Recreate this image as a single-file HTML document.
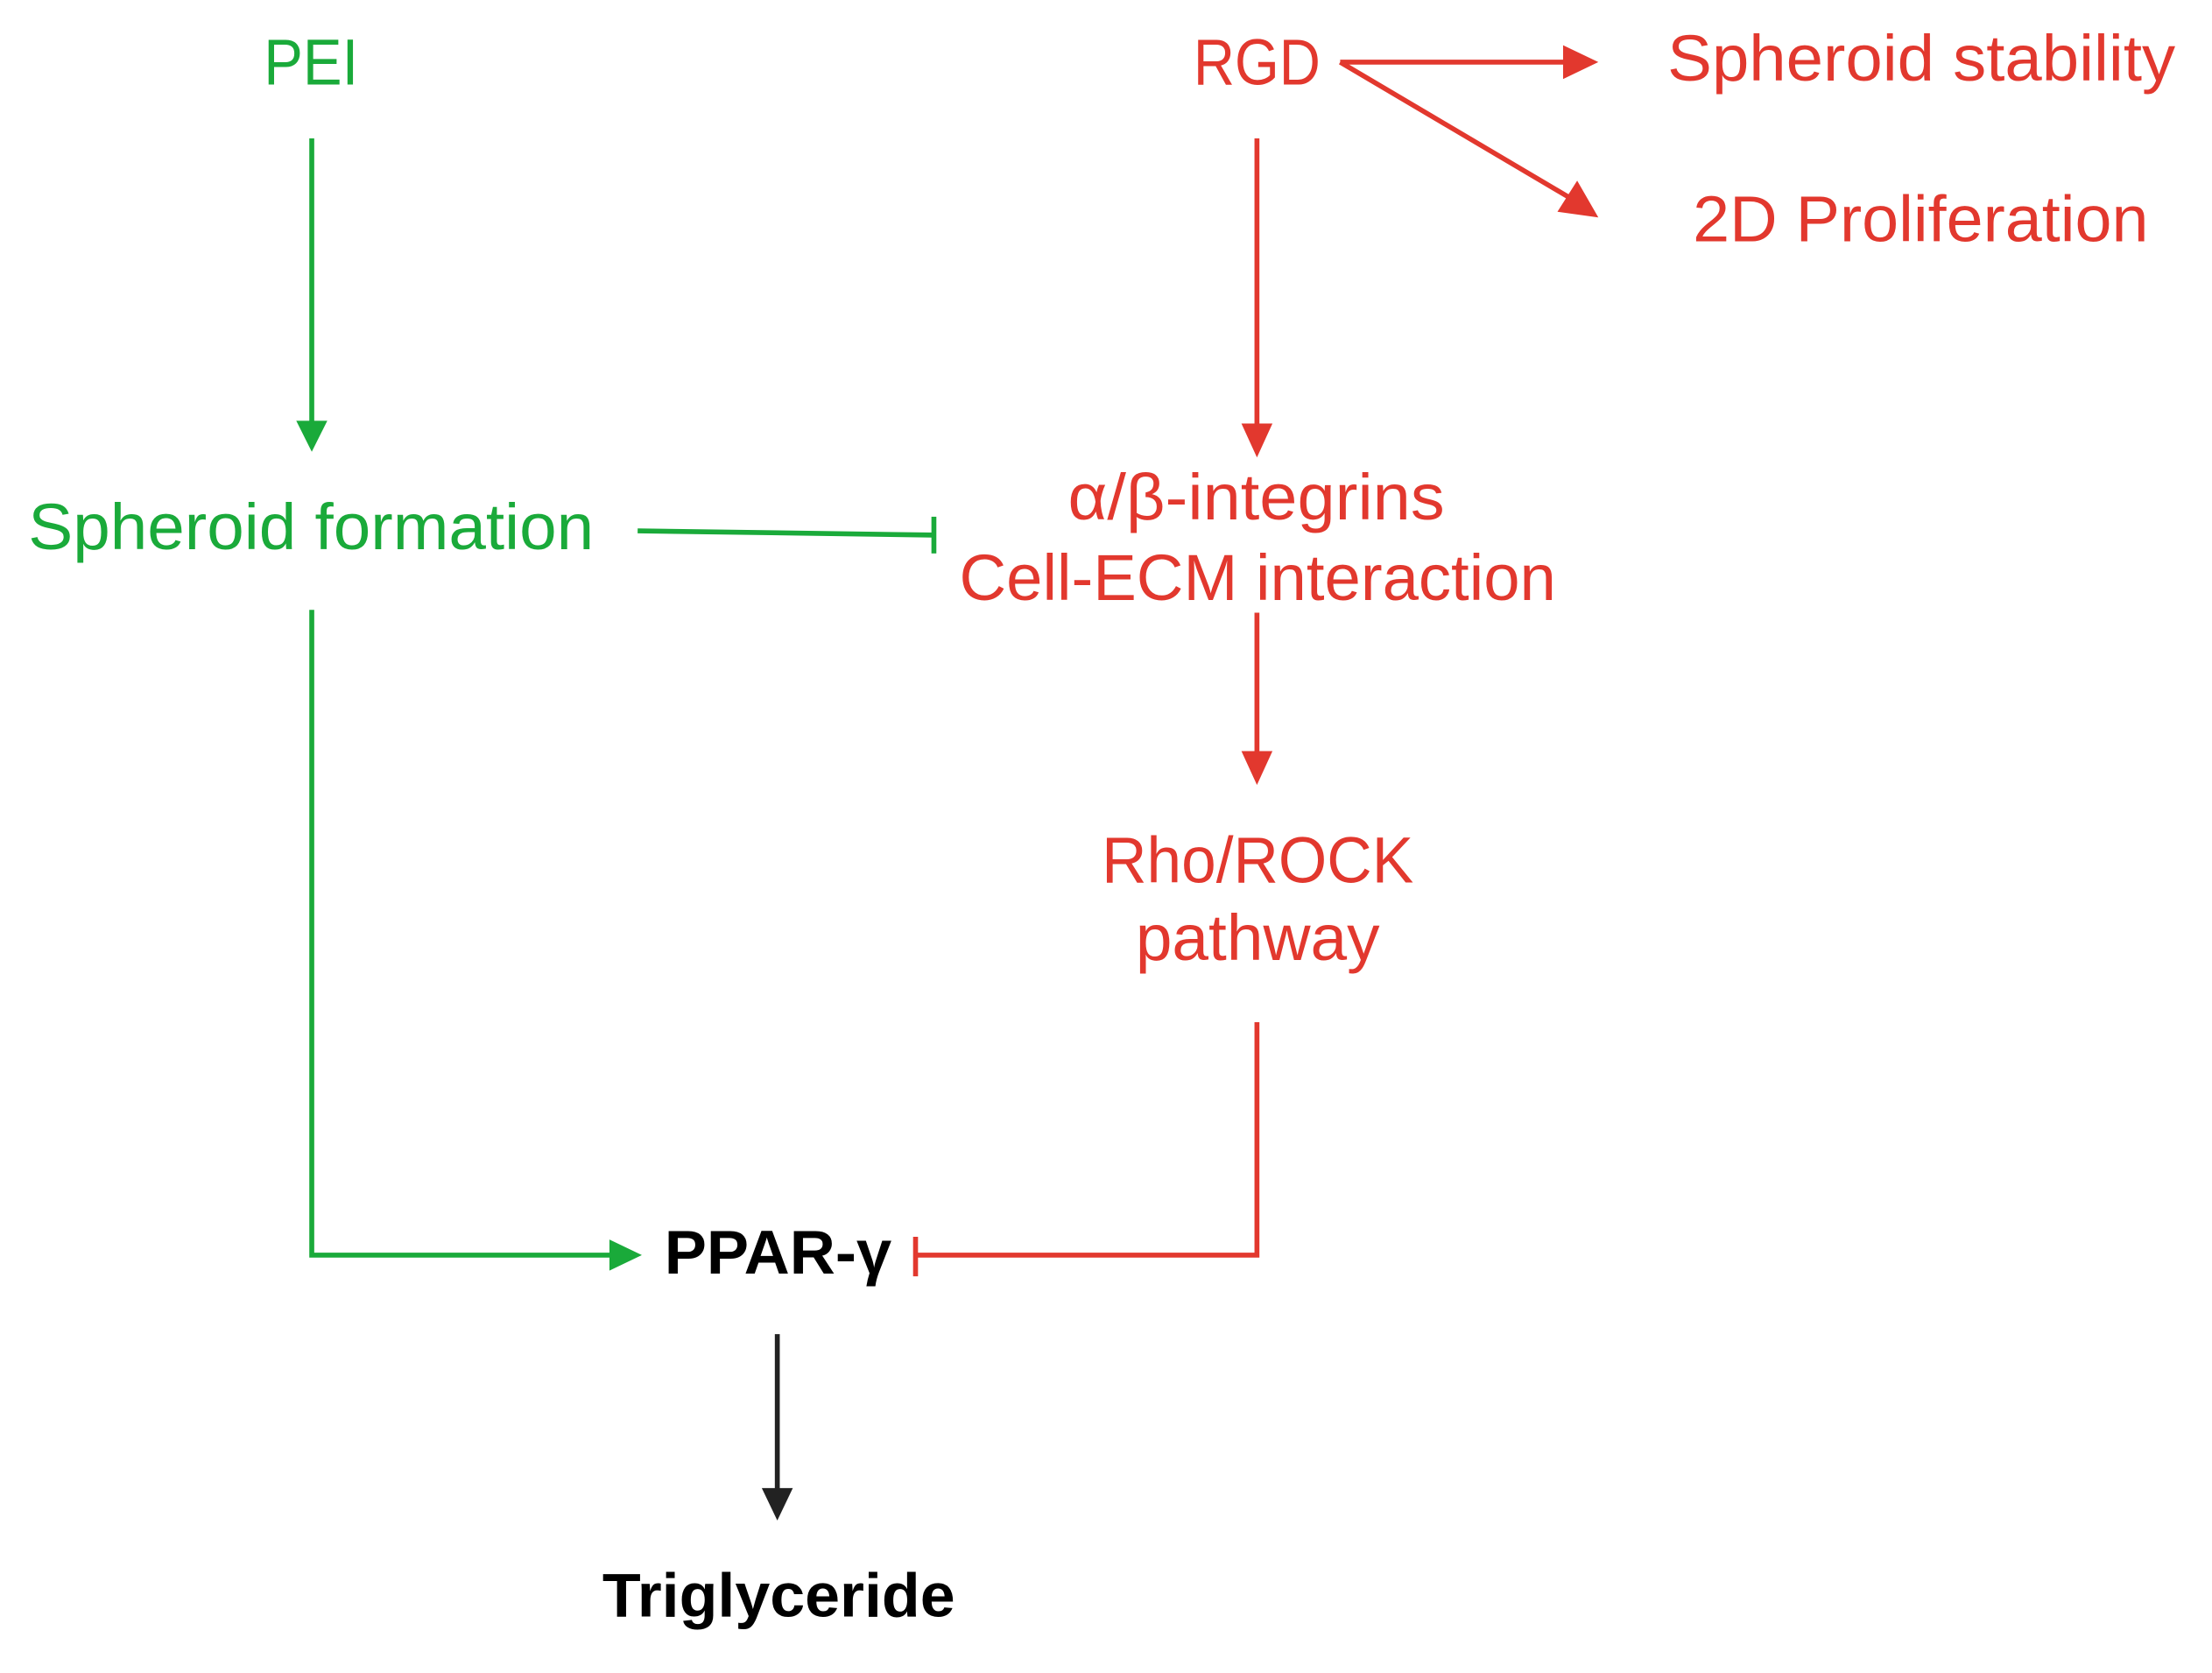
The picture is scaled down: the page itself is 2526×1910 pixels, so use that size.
<!DOCTYPE html>
<html><head><meta charset="utf-8"><style>html,body{margin:0;padding:0;background:#fff}svg{display:block}</style></head>
<body>
<svg width="2526" height="1910" viewBox="0 0 1568 1185" preserveAspectRatio="none" xmlns="http://www.w3.org/2000/svg" font-family="Liberation Sans, Arial, sans-serif">
<rect width="1568" height="1185" fill="#fff"/>
<g fill="#1aaa3a" font-size="46" lengthAdjust="spacingAndGlyphs">
<text x="187" y="60" textLength="67" lengthAdjust="spacingAndGlyphs">PEI</text>
<text x="20" y="389" textLength="401" lengthAdjust="spacingAndGlyphs">Spheroid formation</text>
</g>
<g fill="#e2382e" font-size="46">
<text x="846" y="60" textLength="90" lengthAdjust="spacingAndGlyphs">RGD</text>
<text x="1182" y="57" textLength="360" lengthAdjust="spacingAndGlyphs">Spheroid stability</text>
<text x="1200" y="171" textLength="323" lengthAdjust="spacingAndGlyphs">2D Proliferation</text>
<text x="757" y="368" textLength="267" lengthAdjust="spacingAndGlyphs">α/β-integrins</text>
<text x="680" y="425" textLength="423" lengthAdjust="spacingAndGlyphs">Cell-ECM interaction</text>
<text x="781" y="625" textLength="221" lengthAdjust="spacingAndGlyphs">Rho/ROCK</text>
<text x="805" y="680" textLength="173" lengthAdjust="spacingAndGlyphs">pathway</text>
</g>
<g fill="#000" font-size="44" font-weight="bold">
<text x="471" y="902" textLength="161" lengthAdjust="spacingAndGlyphs">PPAR-γ</text>
<text x="427" y="1145" textLength="250" lengthAdjust="spacingAndGlyphs">Triglyceride</text>
</g>
<g stroke="#1aaa3a" stroke-width="3.5" fill="none">
<line x1="221" y1="98" x2="221" y2="302"/>
<line x1="452" y1="376" x2="662" y2="379"/>
<line x1="662" y1="366" x2="662" y2="392"/>
<polyline points="221,432 221,889 435,889"/>
</g>
<g fill="#1aaa3a">
<polygon points="210,298 232,298 221,320"/>
<polygon points="432,878 432,900 455,889"/>
</g>
<g stroke="#e2382e" stroke-width="3.5" fill="none">
<line x1="950" y1="44" x2="1112" y2="44"/>
<line x1="950" y1="44" x2="1116" y2="142"/>
<line x1="891" y1="98" x2="891" y2="304"/>
<line x1="891" y1="434" x2="891" y2="536"/>
<polyline points="891,724 891,889 649,889"/>
<line x1="649" y1="876" x2="649" y2="904"/>
</g>
<g fill="#e2382e">
<polygon points="1108,32 1108,56 1133,44"/>
<polygon points="1104,150 1118,128 1133,154"/>
<polygon points="880,300 902,300 891,324"/>
<polygon points="880,532 902,532 891,556"/>
</g>
<line x1="551" y1="945" x2="551" y2="1057" stroke="#222" stroke-width="3.5"/>
<polygon points="540,1054 562,1054 551,1077" fill="#222"/>
</svg>
</body></html>
